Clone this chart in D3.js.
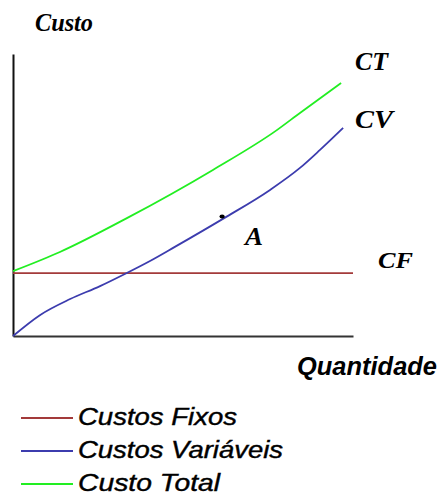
<!DOCTYPE html>
<html>
<head>
<meta charset="utf-8">
<script src="https://cdn.jsdelivr.net/npm/d3@7"></script>
<style>
  html, body { margin: 0; padding: 0; background: #ffffff; }
  svg { display: block; }
</style>
</head>
<body>
<svg id="chart" width="445" height="496"></svg>
<script>
// ---- Data ----
const cfQuantity = [0, 10];
const cfValues   = [22.3, 22.3];

const cvQuantity = [0, 0.79, 1.68, 2.56, 3.29, 4.03, 4.76, 6.21, 7.56, 8.44, 9.03, 9.71];
const cvValues   = [0, 7.4, 13.1, 17.7, 22.0, 26.6, 31.6, 41.8, 51.8, 59.6, 66.0, 73.8];

const ctQuantity = [0, 1.38, 3.35, 5.88, 7.76, 8.44, 9.65];
const ctValues   = [23.0, 29.8, 41.8, 58.9, 73.0, 79.1, 89.7];

const pointA = { q: 6.15, v: 42.4, label: "A" };

const curveLabels  = ["CT", "CV", "CF"];
const legendLabels = ["Custos Fixos", "Custos Variáveis", "Custo Total"];
const yAxisTitle = "Custo";
const xAxisTitle = "Quantidade";

// ---- Layout ----
const colors = { cf: "#a33a3a", cv: "#3c3cae", ct: "#22ee22" };
const svg = d3.select("#chart");
const x = d3.scaleLinear().domain([0, 10]).range([13, 353]);
const y = d3.scaleLinear().domain([0, 100]).range([336, 54]);

// axes (plain lines, no ticks)
const yAxis = d3.axisLeft(y).tickValues([]).tickSizeOuter(0);
const xAxis = d3.axisBottom(x).tickValues([]).tickSizeOuter(0);
svg.append("g").attr("transform", `translate(${x(0)},0)`).call(yAxis)
  .select(".domain").attr("stroke", "#111").attr("stroke-width", 2);
svg.append("g").attr("transform", `translate(0,${y(0)})`).call(xAxis)
  .select(".domain").attr("stroke", "#333").attr("stroke-width", 2);

const line = d3.line().x(d => x(d[0])).y(d => y(d[1])).curve(d3.curveMonotoneX);

function drawSeries(qs, vs, color) {
  svg.append("path")
    .datum(qs.map((q, i) => [q, vs[i]]))
    .attr("d", line)
    .attr("fill", "none")
    .attr("stroke", color)
    .attr("stroke-width", 1.8);
}
drawSeries(cfQuantity, cfValues, colors.cf);
drawSeries(ctQuantity, ctValues, colors.ct);
drawSeries(cvQuantity, cvValues, colors.cv);

// point A marker
svg.append("ellipse")
  .attr("cx", x(pointA.q)).attr("cy", y(pointA.v))
  .attr("rx", 2.6).attr("ry", 2)
  .attr("fill", "#000");

const serif = "'Liberation Serif', 'Times New Roman', serif";
const sans  = "'Liberation Sans', Arial, sans-serif";

function label(txt, px, py, size, family, weight, len) {
  const t = svg.append("text")
    .attr("x", px).attr("y", py)
    .attr("font-family", family)
    .attr("font-style", "italic")
    .attr("font-weight", weight)
    .attr("font-size", size)
    .attr("fill", "#000")
    .text(txt);
  if (len) t.attr("textLength", len).attr("lengthAdjust", "spacingAndGlyphs");
  return t;
}

label(yAxisTitle, 35, 31, 25, serif, "bold", 58);
label(curveLabels[0], 355, 70, 25, serif, "bold", 33);
label(curveLabels[1], 355, 128, 25, serif, "bold", 38);
label(curveLabels[2], 378, 268, 24, serif, "bold", 35);
label(pointA.label, 245, 245, 25, serif, "bold", 18);
label(xAxisTitle, 297, 375, 25, sans, "bold", 140);

// legend
const legendColors = [colors.cf, colors.cv, colors.ct];
const legendLen = [159, 205, 142];
legendLabels.forEach((txt, i) => {
  const base = 425 + i * 33;
  svg.append("line")
    .attr("x1", 21).attr("x2", 73)
    .attr("y1", base - 7).attr("y2", base - 7)
    .attr("stroke", legendColors[i])
    .attr("stroke-width", 2);
  label(txt, 78, base, 23, sans, "normal", legendLen[i])
    .attr("stroke", "#000").attr("stroke-width", 0.4);
});
</script>
</body>
</html>
